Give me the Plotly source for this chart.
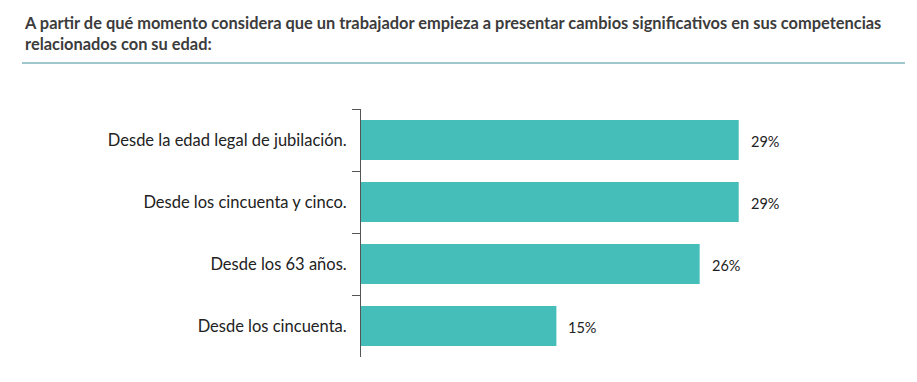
import plotly.graph_objects as go

categories = ["Desde la edad legal de jubilación.", "Desde los cincuenta y cinco.", "Desde los 63 años.", "Desde los cincuenta."]
values = [29, 29, 26, 15]
value_labels = ["29%", "29%", "26%", "15%"]
title_lines = ["A partir de qué momento considera que un trabajador empieza a presentar cambios significativos en sus competencias",
               "relacionados con su edad:"]

OFF = 8  # page body margin
W, H = 917 - OFF, 382 - OFF
L, R, T, B = 361 - OFF, 35, 109 - OFF, 25
PW, PH = W - L - R, H - T - B

fig = go.Figure(go.Bar(
    x=values, y=categories, orientation="h",
    marker=dict(color="#45BDB8", line=dict(width=0)),
    width=0.645, hoverinfo="skip",
))
for v, c, t in zip(values, categories, value_labels):
    fig.add_annotation(x=v, y=c, xref="x", yref="y", text=t, showarrow=False,
                       xanchor="left", yanchor="middle", xshift=10, yshift=-1,
                       font=dict(family="Lato", size=14.5, color="#222222"))
fig.update_layout(
    width=W, height=H,
    margin=dict(l=L, r=R, t=T, b=B, autoexpand=False),
    plot_bgcolor="white", paper_bgcolor="white",
    showlegend=False,
    xaxis=dict(range=[0, 40], visible=False),
    yaxis=dict(autorange="reversed", showline=True, linecolor="#555555", linewidth=1,
               ticks="outside", ticklen=8, tickcolor="#555555", tickson="boundaries",
               ticklabelstandoff=10,
               tickfont=dict(family="Lato", size=16.5, color="#222222"), showgrid=False),
    font=dict(family="Lato"),
)
fig.add_annotation(text="<b>" + "<br>".join(title_lines) + "</b>", xref="paper", yref="paper",
                   x=(22 - 361) / PW, y=1, xanchor="left", yanchor="bottom",
                   yshift=109 - 55, align="left", showarrow=False,
                   font=dict(family="Lato", size=16.4, color="#3c3c3c"))
ly = 1 + (109 - 63) / PH
fig.add_shape(type="line", xref="paper", yref="paper",
              x0=(22 - 361) / PW, x1=(905 - 361) / PW, y0=ly, y1=ly,
              line=dict(color="#7fb6bb", width=1.5))
fig.write_html("out.html")
